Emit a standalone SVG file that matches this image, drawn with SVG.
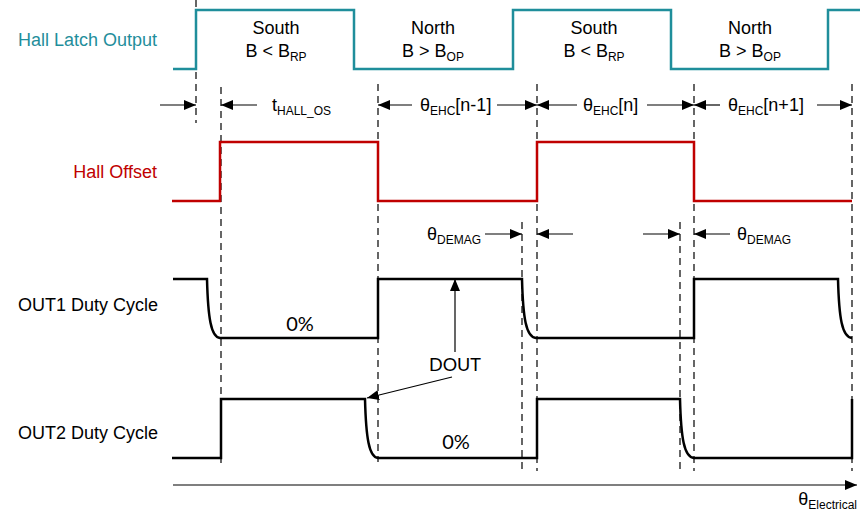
<svg xmlns="http://www.w3.org/2000/svg" width="860" height="514" viewBox="0 0 860 514">
<style>
text{font-family:"Liberation Sans",Arial,sans-serif;font-size:18px;fill:#000}
.cal{font-family:Lato,"Liberation Sans",sans-serif;font-size:18px}
.pct{font-family:Lato,"Liberation Sans",sans-serif;font-size:20px}
.sub{font-size:12px}
.dash{stroke:#000;stroke-width:1.2;stroke-dasharray:7,5;fill:none}
.arr{stroke:#000;stroke-width:1.2;fill:none;marker-end:url(#ah)}
.sig{fill:none;stroke-width:2.5;stroke-linejoin:miter}
</style>
<defs>
<marker id="ah" markerUnits="userSpaceOnUse" markerWidth="12" markerHeight="10" refX="12" refY="5" orient="auto">
<path d="M0,0 L12,5 L0,10 z" fill="#000"/>
</marker>
</defs>
<rect width="860" height="514" fill="#fff"/>

<g id="labels">
<text x="157" y="46" text-anchor="end" style="fill:#1f8e9b">Hall Latch Output</text>
<text x="157" y="178" text-anchor="end" style="fill:#c00000">Hall Offset</text>
<text x="158" y="311" text-anchor="end">OUT1 Duty Cycle</text>
<text x="158" y="439" text-anchor="end">OUT2 Duty Cycle</text>
</g>

<g id="guides">
<line class="dash" x1="196" y1="0" x2="196" y2="123"/>
<line class="dash" x1="221" y1="87" x2="221" y2="463"/>
<line class="dash" x1="378" y1="84" x2="378" y2="462"/>
<line class="dash" x1="537" y1="84" x2="537" y2="471"/>
<line class="dash" x1="694" y1="84" x2="694" y2="471"/>
<line class="dash" x1="852" y1="84" x2="852" y2="471"/>
<line class="dash" x1="522" y1="222" x2="522" y2="471"/>
<line class="dash" x1="680" y1="222" x2="680" y2="471"/>
</g>

<g id="hall-latch">
<path class="sig" stroke="#1f8e9b" d="M173,69 H196 V10 H354 V69 H513 V10 H671 V69 H828 V10 H860"/>
<text x="276" y="34" text-anchor="middle">South</text>
<text x="276" y="57" text-anchor="middle">B &lt; B<tspan class="sub" dy="4">RP</tspan></text>
<text x="433" y="34" text-anchor="middle">North</text>
<text x="433" y="57" text-anchor="middle">B &gt; B<tspan class="sub" dy="4">OP</tspan></text>
<text x="594" y="34" text-anchor="middle">South</text>
<text x="594" y="57" text-anchor="middle">B &lt; B<tspan class="sub" dy="4">RP</tspan></text>
<text x="750" y="34" text-anchor="middle">North</text>
<text x="750" y="57" text-anchor="middle">B &gt; B<tspan class="sub" dy="4">OP</tspan></text>
</g>

<g id="hall-offset">
<path class="sig" stroke="#c00000" d="M172,201 H220 V142 H378 V201 H537 V142 H694 V201 H852"/>
</g>

<g id="out1">
<path class="sig" stroke="#000" d="M173,279 H207 C208,318 211,337 220,338 H378 V279 H522 C523,318 526,337 536,338 H694 V279 H838 C839,318 842,337 852,338"/>
<text class="pct" x="300" y="331" text-anchor="middle">0%</text>
</g>

<g id="out2">
<path class="sig" stroke="#000" d="M172,458 H221 V399 H365 C366,438 369,457 378,458 H537 V399 H680 C681,438 684,457 694,458 H852 V399"/>
<text class="pct" x="456" y="449" text-anchor="middle">0%</text>
</g>

<g id="interval-labels">
<text x="272" y="111">t<tspan class="sub" dy="4">HALL_OS</tspan></text>
<text x="420" y="111">θ<tspan class="sub" dy="4">EHC</tspan><tspan dy="-4">[n-1]</tspan></text>
<text x="583" y="111">θ<tspan class="sub" dy="4">EHC</tspan><tspan dy="-4">[n]</tspan></text>
<text x="728" y="111">θ<tspan class="sub" dy="4">EHC</tspan><tspan dy="-4">[n+1]</tspan></text>
<text x="427" y="240">θ<tspan class="sub" dy="4">DEMAG</tspan></text>
<text x="737" y="240">θ<tspan class="sub" dy="4">DEMAG</tspan></text>
<text class="cal" x="455" y="371" text-anchor="middle">DOUT</text>
<text x="857" y="505" text-anchor="end">θ<tspan class="sub" dy="4">Electrical</tspan></text>
</g>

<g id="connectors">
<line class="arr" x1="160" y1="105" x2="196" y2="105"/>
<line class="arr" x1="257" y1="105" x2="221" y2="105"/>
<line class="arr" x1="412" y1="105" x2="378" y2="105"/>
<line class="arr" x1="497" y1="105" x2="537" y2="105"/>
<line class="arr" x1="577" y1="105" x2="537" y2="105"/>
<line class="arr" x1="647" y1="105" x2="694" y2="105"/>
<line class="arr" x1="720" y1="105" x2="694" y2="105"/>
<line class="arr" x1="817" y1="105" x2="852" y2="105"/>
<line class="arr" x1="485" y1="234" x2="522" y2="234"/>
<line class="arr" x1="573" y1="234" x2="537" y2="234"/>
<line class="arr" x1="643" y1="234" x2="680" y2="234"/>
<line class="arr" x1="730" y1="234" x2="694" y2="234"/>
<line class="arr" x1="455" y1="352" x2="455" y2="279"/>
<line class="arr" x1="452" y1="377" x2="367" y2="398"/>
<line class="arr" x1="173" y1="485" x2="857" y2="485"/>
</g>
</svg>
